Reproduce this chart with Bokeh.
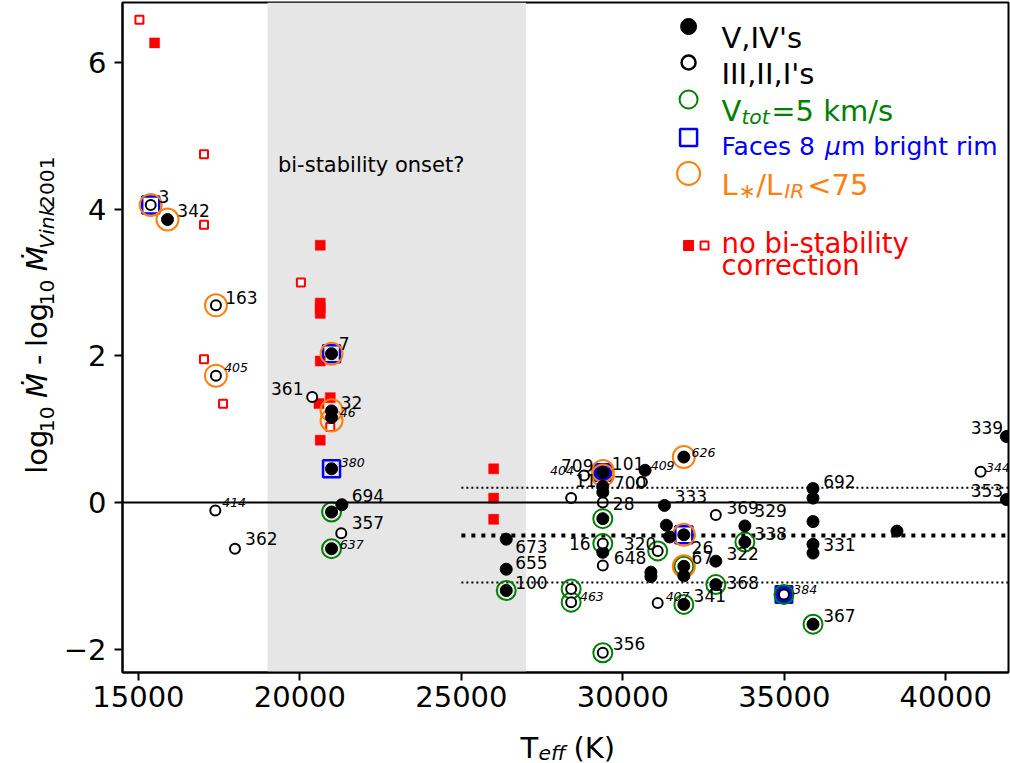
import math
from bokeh.plotting import figure
from bokeh.layouts import row, column
from bokeh.models import Range1d, FixedTicker, BoxAnnotation, Span, Label, ColumnDataSource
from bokeh.core.properties import value
from bokeh.embed import file_html
from bokeh.resources import INLINE

FONT = "DejaVu Sans"

# ---------------- data (Teff in K, delta log Mdot) ----------------
# V, IV's (filled black)
dwarf_teff = [15900, 20980, 20980, 20980, 20980, 21300, 20980, 20980,
              26390, 26390, 26390, 29380, 29380, 29380, 29380, 29380,
              30690, 31290, 31350, 31450, 31890, 31890, 31890, 31890,
              30870, 30870, 32880, 32880, 31890, 33780, 33780,
              35890, 35890, 35890, 35890, 35890, 35890, 38490, 41880, 41880]
dwarf_dm = [3.86, 2.03, 1.25, 1.16, 0.46, -0.03, -0.13, -0.63,
            -0.50, -0.91, -1.20, 0.41, 0.22, 0.14, -0.22, -0.68,
            0.44, -0.04, -0.31, -0.47, 0.62, -0.44, -0.87, -1.00,
            -0.95, -1.01, -0.80, -1.12, -1.39, -0.32, -0.54,
            0.19, 0.06, -0.26, -0.57, -0.69, -1.66, -0.39, 0.90, 0.04]

# III, II, I's (open black)
giant_teff = [15380, 17400, 17400, 17380, 17990, 20380, 21280,
              28400, 28800, 29380, 29380, 29380, 29380, 28400, 28400,
              30590, 31080, 31080, 32880, 34990, 41080]
giant_dm = [4.06, 2.69, 1.73, -0.11, -0.63, 1.44, -0.42,
            0.06, 0.37, 0.00, -0.56, -0.86, -2.05, -1.18, -1.36,
            0.28, -0.66, -1.37, -0.17, -1.255, 0.42]

# V_tot = 5 km/s (green rings)
vtot_teff = [20980, 20980, 26390, 28400, 28400, 29380, 29380, 29380,
             31080, 31890, 31890, 32880, 33780, 34990, 35890]
vtot_dm = [-0.13, -0.63, -1.20, -1.18, -1.36, -0.22, -0.56, -2.05,
           -0.66, -0.87, -1.39, -1.12, -0.54, -1.255, -1.66]

# Faces 8 micron bright rim (blue squares)
rim_solid_teff = [29380, 34990]
rim_solid_dm = [0.41, -1.255]
rim_open_teff = [15380, 20980, 20980, 31890]
rim_open_dm = [4.06, 2.03, 0.46, -0.44]

# L*/L_IR < 75 (orange rings)
lir_teff = [15380, 15900, 17400, 17400, 20980, 20980, 20980, 29380, 29380, 31890, 31890, 31890]
lir_dm = [4.06, 3.86, 2.69, 1.73, 2.03, 1.26, 1.12, 0.43, 0.37, 0.62, -0.44, -0.87]

# no bi-stability correction (red squares)
nobs_fill_teff = [15500, 20630, 20630, 20630, 20630, 20630, 20590, 20940, 20630, 26000, 26000, 26000]
nobs_fill_dm = [6.27, 3.51, 2.72, 2.65, 2.58, 1.93, 1.35, 1.43, 0.85, 0.46, 0.06, -0.23]
nobs_open_teff = [15030, 17030, 17030, 20030, 17030, 17620, 20940]
nobs_open_dm = [6.585, 4.75, 3.79, 3.00, 1.955, 1.347, 1.03]

# source numbers (regular)
lab_text = ["3", "342", "163", "7", "361", "32", "694", "357", "362", "673", "655", "100",
            "709", "11", "101", "700", "28", "16", "320", "648", "333", "26", "67", "322",
            "368", "341", "356", "369", "329", "338", "692", "331", "367", "339", "353"]
lab_teff = [15617, 16204, 17685, 21204, 19105, 21265, 21605, 21605, 18302, 26667, 26667, 26667,
            28086, 28518, 29660, 29722, 29691, 28333, 30031, 29722, 31605, 32130, 32130, 33210,
            33210, 32191, 29691, 33210, 34074, 34074, 36204, 36204, 36204, 40772, 40772]
lab_dm = [4.17, 3.98, 2.80, 2.17, 1.56, 1.36, 0.095, -0.27, -0.49, -0.60, -0.82, -1.09,
          0.50, 0.30, 0.53, 0.27, -0.01, -0.56, -0.56, -0.75, 0.08, -0.61, -0.75, -0.70,
          -1.09, -1.27, -1.93, -0.07, -0.11, -0.42, 0.29, -0.57, -1.54, 1.02, 0.16]

# source numbers (small italic)
ital_text = ["405", "414", "46", "380", "637", "404", "409", "626", "463", "407", "384", "344"]
ital_teff = [17654, 17593, 21235, 21265, 21235, 27747, 30864, 32130, 28673, 31327, 35278, 41250]
ital_dm = [1.84, 0.0, 1.23, 0.55, -0.57, 0.44, 0.50, 0.68, -1.28, -1.28, -1.19, 0.48]

# reference levels
zero_level = 0.0
mean_level = -0.45
band_hi = 0.20
band_lo = -1.09
levels_start = 25000
bistab_lo, bistab_hi = 19000, 27000

x_ticks = [15000, 20000, 25000, 30000, 35000, 40000]
y_ticks = [-2, 0, 2, 4, 6]

# ---------------- layout ----------------
TOT_W, TOT_H = 1010, 763
YW = 60                 # strip holding the y title
HM = 722                # height of the main plot
FL, FR, FT, FB = 119, 1008, 2, 672   # frame edges on the page
X0, X1 = 14506, 41944
Y0, Y1 = -2.319, 6.821

MW = TOT_W - YW
p = figure(width=MW, height=HM, x_range=Range1d(X0, X1), y_range=Range1d(Y0, Y1),
           output_backend="svg", toolbar_location=None,
           min_border_left=FL - YW, min_border_right=TOT_W - FR, min_border_top=FT,
           min_border_bottom=HM - FB)
p.grid.visible = False
p.background_fill_color = "white"
p.border_fill_color = "white"
p.outline_line_color = "black"
p.outline_line_width = 2
p.outline_line_alpha = 1.0

for ax in (p.xaxis[0], p.yaxis[0]):
    ax.axis_line_width = 2
    ax.axis_line_color = "black"
    ax.major_tick_line_width = 2
    ax.major_tick_line_color = "black"
    ax.major_tick_out = 8
    ax.major_tick_in = 0
    ax.minor_tick_line_color = None
    ax.major_label_text_font = FONT
    ax.major_label_text_font_size = "29px"
    ax.major_label_text_color = "black"

p.xaxis.ticker = FixedTicker(ticks=x_ticks)
p.yaxis.ticker = FixedTicker(ticks=y_ticks)
p.xaxis.major_label_overrides = {t: str(t) for t in x_ticks}
p.yaxis.major_label_overrides = {t: (str(t) if t >= 0 else "\u2212" + str(-t)) for t in y_ticks}
p.xaxis.major_label_standoff = 5
p.yaxis.major_label_standoff = 8
p.yaxis.major_label_text_align = "right"

# bi-stability band and reference lines
p.add_layout(BoxAnnotation(left=bistab_lo, right=bistab_hi, fill_color="#e6e6e6", fill_alpha=1.0,
                           line_alpha=0, level="underlay"))
p.add_layout(Span(location=zero_level, dimension="width", line_color="black", line_width=2))
xe = X1 + 1000
p.line([levels_start, xe], [band_hi, band_hi], line_color="black", line_width=2, line_dash="2 3")
p.line([levels_start, xe], [band_lo, band_lo], line_color="black", line_width=2, line_dash="2 3")
p.line([levels_start, xe], [mean_level, mean_level], line_color="black", line_width=4, line_dash="4 6")

# markers
p.scatter(nobs_fill_teff, nobs_fill_dm, marker="square", size=10, fill_color="red", line_color="red", line_width=0.5)
p.scatter(nobs_open_teff, nobs_open_dm, marker="square", size=8, fill_color="white", line_color="red", line_width=2)
p.scatter(rim_solid_teff, rim_solid_dm, marker="square", size=17, fill_color="blue", line_color="blue", line_width=2)
p.scatter(rim_open_teff, rim_open_dm, marker="square", size=17, fill_color=None, line_color="blue", line_width=2.5)
p.scatter(vtot_teff, vtot_dm, marker="circle", size=19, fill_color=None, line_color="green", line_width=2)
p.scatter(lir_teff, lir_dm, marker="circle", size=22, fill_color=None, line_color="#ff7f0e", line_width=2)
p.scatter(dwarf_teff, dwarf_dm, marker="circle", size=12, fill_color="black", line_color="black")
p.scatter(giant_teff, giant_dm, marker="circle", size=10, fill_color="white", line_color="black", line_width=2)

# labels of sources
src_lab = ColumnDataSource(dict(x=lab_teff, y=lab_dm, t=lab_text))
p.text(x="x", y="y", text="t", source=src_lab, text_font=value(FONT), text_font_size=value("17px"),
       text_color="black", text_align="left", text_baseline="middle")
src_ital = ColumnDataSource(dict(x=ital_teff, y=ital_dm, t=ital_text))
p.text(x="x", y="y", text="t", source=src_ital, text_font=value(FONT), text_font_size=value("12.5px"),
       text_font_style=value("italic"), text_color="black", text_align="left", text_baseline="middle")

p.add_layout(Label(x=19320, y=4.61, text="bi-stability onset?", text_font=FONT, text_font_size="21px",
                   text_color="black", text_align="left", text_baseline="middle"))


def dx(px):
    return X0 + (px - FL) / (FR - FL) * (X1 - X0)


def dy(py):
    return Y1 - (py - FT) / (FB - FT) * (Y1 - Y0)


def put(fig, x, y, text, size, color="black", style="normal", angle=0.0, align="left", base="alphabetic"):
    fig.add_layout(Label(x=x, y=y, text=text, text_font=FONT, text_font_size=f"{size}px",
                         text_font_style=style, text_color=color, text_align=align,
                         text_baseline=base, angle=angle))


# ---------------- legend (drawn by hand, page pixels) ----------------
LX = 687
TX = 720
p.scatter([dx(LX)], [dy(26)], marker="circle", size=16, fill_color="black", line_color="black")
p.scatter([dx(LX)], [dy(62)], marker="circle", size=14, fill_color="white", line_color="black", line_width=2.5)
p.scatter([dx(LX)], [dy(99)], marker="circle", size=18, fill_color=None, line_color="green", line_width=2)
p.scatter([dx(LX)], [dy(137)], marker="square", size=17, fill_color=None, line_color="blue", line_width=2.5)
p.scatter([dx(LX)], [dy(173)], marker="circle", size=23, fill_color=None, line_color="#ff7f0e", line_width=2)
p.scatter([dx(LX)], [dy(245)], marker="square", size=10, fill_color="red", line_color="red")
p.scatter([dx(LX + 16)], [dy(245)], marker="square", size=8, fill_color="white", line_color="red", line_width=2)


def leg(px, py, text, size, color="black", style="normal"):
    put(p, dx(px), dy(py), text, size, color, style)


leg(TX, 37, "V,IV's", 29)
leg(TX, 73, "III,II,I's", 29)
leg(TX, 110, "V", 29, "green")
leg(TX + 20, 116, "tot", 20.3, "green", "italic")
leg(TX + 50, 110, "=5 km/s", 29, "green")
leg(TX, 146, "Faces 8", 25, "blue")
leg(TX + 104, 146, "\u03bc", 25, "blue", "italic")
leg(TX + 120, 146, "m bright rim", 25, "blue")
leg(TX, 184, "L", 29, "#ff7f0e")
leg(TX + 17, 190, "\u2217", 20.3, "#ff7f0e")
leg(TX + 35, 184, "/L", 29, "#ff7f0e")
leg(TX + 63, 190, "IR", 20.3, "#ff7f0e", "italic")
leg(TX + 86, 184, "<75", 29, "#ff7f0e")
leg(TX, 242, "no bi-stability", 27.5, "red")
leg(TX, 264, "correction", 27.5, "red")


# ---------------- side strips for the axis titles ----------------
def strip(w, h):
    f = figure(width=w, height=h, x_range=Range1d(0, w), y_range=Range1d(h, 0),
               output_backend="svg", toolbar_location=None, x_axis_type=None, y_axis_type=None,
               min_border_left=0, min_border_right=0, min_border_top=0, min_border_bottom=0)
    f.grid.visible = False
    f.outline_line_color = None
    f.background_fill_color = "white"
    f.border_fill_color = "white"
    return f


# y title: log10 Mdot - log10 Mdot_Vink2001 (rotated, pieces centred on their boxes)
ys = strip(YW, HM)
A = math.pi / 2
MAIN, SUB = 29, 20.3
# (text, font size, style, is_sub, width in em, gap before in px)
pieces = [("log", MAIN, "normal", False, 1.525, 0),
          ("10", SUB, "normal", True, 1.272, 0),
          ("\u1e40", MAIN, "italic", False, 0.863, 11),
          ("-", MAIN, "normal", False, 0.361, 10),
          ("log", MAIN, "normal", False, 1.525, 10),
          ("10", SUB, "normal", True, 1.272, 0),
          ("\u1e40", MAIN, "italic", False, 0.863, 11),
          ("Vink", SUB, "italic", True, 2.175, 0),
          ("2001", SUB, "normal", True, 2.544, 0)]
total = sum(w * fs + g for (_, fs, _, _, w, g) in pieces)
s = (FT + FB) / 2 + total / 2
for (t, fs, st, sub, w, g) in pieces:
    s -= g
    wpx = w * fs
    baseline_x = 53.5 if sub else 46.5
    cx = baseline_x - 0.34 * fs
    put(ys, cx, s - wpx / 2, t, fs, style=st, angle=A, align="center", base="middle")
    s -= wpx

# x title: T_eff (K)
XH = TOT_H - HM
xs = strip(TOT_W, XH)
put(xs, 520, 747 - HM, "T", 29)
put(xs, 538, 752 - HM, "eff", 20.3, style="italic")
put(xs, 573, 747 - HM, "(K)", 29)

layout = column(row(ys, p, spacing=0), xs, spacing=0)
open("out.html", "w").write(file_html(layout, INLINE))
